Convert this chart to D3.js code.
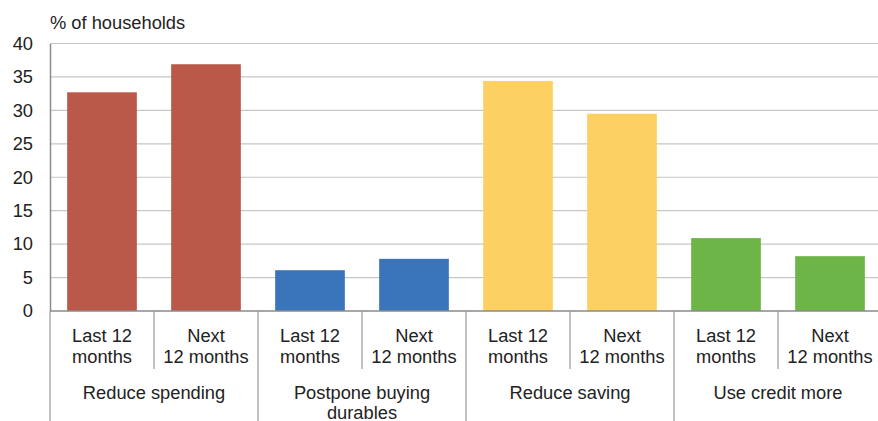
<!DOCTYPE html>
<html>
<head>
<meta charset="utf-8">
<script src="https://cdn.jsdelivr.net/npm/d3@7"></script>
<style>
  body { margin: 0; background: #fff; }
  svg { display: block; font-family: "Liberation Sans", Arial, Helvetica, sans-serif; }
</style>
</head>
<body>
<div id="chart"></div>
<script>
// data
const groups = ['Reduce spending', 'Postpone buying durables', 'Reduce saving', 'Use credit more'];
const periods = ['Last 12 months', 'Next 12 months'];
const periodLines = [['Last 12', 'months'], ['Next', '12 months']];
const values = [
  [32.7, 36.9],
  [6.1, 7.8],
  [34.4, 29.5],
  [10.9, 8.2]
];
const groupColors = ['#BA5849', '#3A74BA', '#FDD062', '#6DB546'];
const yTicks = [0, 5, 10, 15, 20, 25, 30, 35, 40];

const W = 878, H = 421;
const FS = 18.3;
const margin = { left: 50, right: -4, top: 43.5, bottom: 110 };
const plotW = W - margin.left - margin.right;
const plotH = H - margin.top - margin.bottom;

const svg = d3.select('#chart').append('svg')
  .attr('width', W).attr('height', H);

// flatten rows
const rows = [];
groups.forEach((g, gi) => periods.forEach((p, pi) => {
  rows.push({ key: g + '|' + p, group: g, gi, pi, value: values[gi][pi] });
}));

const x = d3.scaleBand()
  .domain(rows.map(d => d.key))
  .range([margin.left, margin.left + plotW])
  .paddingInner(0.33).paddingOuter(0.165);

const y = d3.scaleLinear().domain([0, 40]).range([margin.top + plotH, margin.top]);

// gridlines
svg.append('g').selectAll('line')
  .data(yTicks.filter(t => t > 0)).enter()
  .append('line')
    .attr('x1', margin.left).attr('x2', W)
    .attr('y1', d => y(d)).attr('y2', d => y(d))
    .attr('stroke', '#c6c6c6').attr('stroke-width', 1.2);

// y axis
const yAxis = svg.append('g')
  .attr('transform', `translate(${margin.left},0)`)
  .call(d3.axisLeft(y).tickValues(yTicks).tickSize(0).tickPadding(17));
yAxis.select('.domain').attr('stroke', '#8a8a8a').attr('stroke-width', 1.5);
yAxis.selectAll('text').attr('font-size', FS).attr('fill', '#222')
  .attr('font-family', '"Liberation Sans", Arial, sans-serif');

// bars
svg.append('g').selectAll('rect')
  .data(rows).enter()
  .append('rect')
    .attr('x', d => x(d.key))
    .attr('width', x.bandwidth())
    .attr('y', d => y(d.value))
    .attr('height', d => y(0) - y(d.value))
    .attr('fill', d => groupColors[d.gi]);

// baseline
svg.append('line')
  .attr('x1', margin.left).attr('x2', W)
  .attr('y1', y(0)).attr('y2', y(0))
  .attr('stroke', '#8a8a8a').attr('stroke-width', 1.5);

// category separators and sub labels
const step = x.step();
const cat = svg.append('g');
rows.forEach((d, i) => {
  const left = x(d.key) - x.paddingOuter() * step;
  const isGroupStart = d.pi === 0;
  cat.append('line')
    .attr('x1', left).attr('x2', left)
    .attr('y1', y(0)).attr('y2', isGroupStart ? H : y(0) + 58)
    .attr('stroke', '#9a9a9a').attr('stroke-width', 1.2);
  const cx = x(d.key) + x.bandwidth() / 2;
  periodLines[d.pi].forEach((ln, li) => {
    cat.append('text')
      .attr('x', cx).attr('y', y(0) + 30.5 + li * 21.5)
      .attr('text-anchor', 'middle')
      .attr('font-size', FS).attr('fill', '#222')
      .text(ln);
  });
});

// group labels
groups.forEach((g, gi) => {
  const a = x(rows[gi * 2].key), b = x(rows[gi * 2 + 1].key) + x.bandwidth();
  const cx = (a + b) / 2;
  const words = g === 'Postpone buying durables' ? ['Postpone buying', 'durables'] : [g];
  words.forEach((ln, li) => {
    cat.append('text')
      .attr('x', cx).attr('y', y(0) + 88 + li * 20)
      .attr('text-anchor', 'middle')
      .attr('font-size', FS).attr('fill', '#222')
      .text(ln);
  });
});

// unit label
svg.append('text')
  .attr('x', 50).attr('y', 29)
  .attr('font-size', FS).attr('fill', '#222')
  .text('% of households');
</script>
</body>
</html>
